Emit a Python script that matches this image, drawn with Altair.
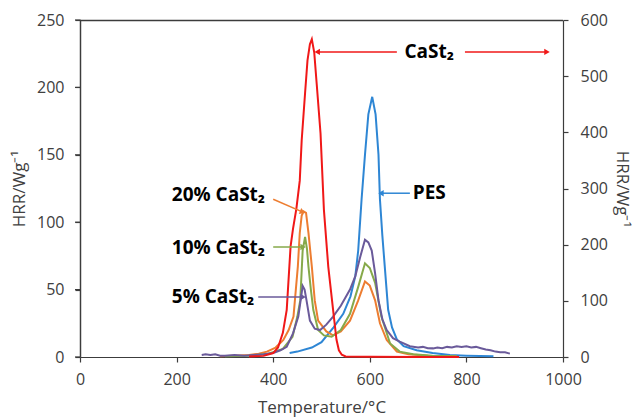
import altair as alt
import pandas as pd

# ---------------- data ----------------
# Temperature (°C) and HRR (W/g) – left axis series
pes_T = [434, 450, 480, 500, 525, 545, 560, 570, 576, 583, 590, 597, 605, 612, 618, 621, 626, 631, 638, 646, 656, 670, 697, 730, 766, 800, 856]
pes_v = [3, 4, 7, 11, 22, 32, 45, 60, 79, 117, 150, 180, 193, 180, 150, 117, 90, 67, 35, 22, 13, 8, 5, 3, 1.5, 1, 0.5]

p20_T = [290, 320, 350, 370, 387, 405, 421, 432, 442, 451, 455, 459, 463, 468, 473, 480, 486, 493, 510, 524, 540, 559, 576, 590, 600, 611, 621, 635, 656, 680, 720, 780]
p20_v = [0.5, 1, 1.5, 2.5, 4, 7, 12.6, 20, 30, 67, 92, 105, 108, 107, 92, 67, 42, 27, 19, 16, 19, 27, 42, 56, 53, 42, 25, 12.6, 4, 2, 1, 0.5]

p10_T = [300, 350, 390, 420, 440, 450, 456, 461, 466, 470, 473, 478, 483, 493, 505, 521, 540, 559, 576, 590, 600, 611, 624, 642, 662, 690, 730, 780]
p10_v = [0.5, 1, 2.5, 6, 15, 30, 42, 79, 89, 80, 67, 50, 35, 20, 16, 15, 20, 32, 52, 69.5, 66, 55, 30, 10, 4, 2, 1, 0.5]

p5_T = [252, 260, 270, 280, 290, 300, 320, 340, 360, 380, 400, 415, 428, 441, 452, 458, 461, 465, 469, 476, 486, 497, 510, 524, 540, 559, 570, 580, 590, 597, 604, 611, 618, 626, 635, 648, 662, 683, 700, 710, 720, 731, 740, 750, 760, 770, 780, 790, 800, 810, 820, 830, 840, 850, 860, 870, 880, 890]
p5_v = [1.5, 2, 1.5, 2, 1, 1, 1.5, 1, 1.5, 2, 3, 5, 7.6, 17.5, 30, 45, 52.7, 50, 42, 27, 21, 20, 24, 30, 38, 50, 60, 74, 87, 85, 79, 62, 42, 28, 20, 14, 11.4, 8, 7, 7.5, 6.5, 6.4, 7, 6.5, 7.5, 7, 8, 7.5, 8, 7, 7.5, 6.5, 5.5, 5, 4, 3.5, 3.5, 2.5]

# CaSt2 – right axis (W/g)
red_T = [350, 380, 400, 410, 420, 428, 436, 441, 448, 455, 459, 466, 471, 476, 480, 485, 490, 498, 505, 514, 524, 531, 536, 542, 550, 600, 700, 785]
red_v = [1, 2, 7, 17, 43, 84, 197, 228, 264, 314, 386, 470, 528, 557, 566, 542, 487, 398, 262, 161, 84, 31, 12, 4, 1, 0.5, 0, 0]

x_ticks = [0, 200, 400, 600, 800, 1000]
yl_ticks = [0, 50, 100, 150, 200, 250]
yr_ticks = [0, 100, 200, 300, 400, 500, 600]

labels = ["20% CaSt₂", "10% CaSt₂", "5% CaSt₂", "PES", "CaSt₂"]

# ---------------- style ----------------
FONT = "Open Sans"
AX = "#3c3c3c"
TXT = "#404040"
C_RED = "#F01818"
C_BLUE = "#2E86D4"
C_OR = "#ED7D31"
C_GR = "#86A94A"
C_PU = "#6A5A9A"
W, H = 483, 337


def xs():
    return alt.Scale(domain=[0, 1000], nice=False)


def yls():
    return alt.Scale(domain=[0, 250], nice=False)


def series(T, v):
    return pd.DataFrame({"T": T, "v": v})


def x_axis():
    return alt.Axis(values=x_ticks, title="Temperature/°C", grid=False, tickSize=5, format="d",
                    labelPadding=9, titlePadding=12, labelFlush=False, domain=True, ticks=True)


yl_axis = alt.Axis(values=yl_ticks, title="HRR/Wg⁻¹", grid=False, tickSize=5, domain=True, ticks=True,
                   labelPadding=11, titlePadding=8, orient="left", labelFlush=False)
yr_axis = alt.Axis(values=yr_ticks, title="HRR/Wg⁻¹", grid=False, tickSize=5, domain=True, ticks=True,
                   labelPadding=12, titlePadding=5, orient="right", titleAngle=90, labelFlush=False)


def line(T, v, color, yaxis=None):
    return alt.Chart(series(T, v)).mark_line(color=color, strokeWidth=2).encode(
        x=alt.X("T:Q", scale=xs(), axis=x_axis(), title="Temperature/°C"),
        y=alt.Y("v:Q", scale=yls(), axis=yaxis),
    )


# annotation table (positions in data units of the left axis)
ann = pd.DataFrame({
    "T": [400, 400, 369, 683, 656, 797],
    "y1": [117, 81.6, 44.5, 121.5, 226.3, 226.3],
    "x2": [459, 460, 460, 625, 493, 965],
    "y2": [107.8, 81.6, 44.5, 121.5, 226.3, 226.3],
    "ang": [113, 90, 90, 270, 270, 90],
    "col": [C_OR, C_GR, C_PU, C_BLUE, C_RED, C_RED],
})
ann_heads = pd.DataFrame({"T": ann["x2"], "y2": ann["y2"], "ang": ann["ang"], "col": ann["col"]})
txt = pd.DataFrame({
    "T": [190, 190, 190, 689, 723],
    "y": [120.5, 81, 44.5, 121.5, 226.3],
    "t": labels,
    "al": ["left", "left", "left", "left", "center"],
})

rules = alt.Chart(ann).mark_rule(strokeWidth=1.5).encode(
    x=alt.X("T:Q", scale=xs(), axis=x_axis(), title="Temperature/°C"), x2="x2:Q",
    y=alt.Y("y1:Q", scale=yls(), axis=None), y2="y2:Q",
    color=alt.Color("col:N", scale=None),
)
heads = alt.Chart(ann_heads).mark_point(shape="triangle", filled=True, size=40, opacity=1).encode(
    x=alt.X("T:Q", scale=xs(), axis=x_axis(), title="Temperature/°C"),
    y=alt.Y("y2:Q", scale=yls(), axis=None),
    angle=alt.Angle("ang:Q", scale=None),
    color=alt.Color("col:N", scale=None),
)


def text_layer(df, align):
    return alt.Chart(df).mark_text(
        font=FONT, fontWeight="bold", fontSize=19, align=align, baseline="middle", color="#000000"
    ).encode(
        x=alt.X("T:Q", scale=xs(), axis=x_axis(), title="Temperature/°C"),
        y=alt.Y("y:Q", scale=yls(), axis=None),
        text="t:N",
    )


txt_left = text_layer(txt[txt["al"] == "left"], "left")
txt_center = text_layer(txt[txt["al"] == "center"], "center")

red = alt.Chart(series(red_T, red_v)).mark_line(color=C_RED, strokeWidth=2).encode(
    x=alt.X("T:Q", scale=xs(), axis=x_axis(), title="Temperature/°C"),
    y=alt.Y("v:Q", scale=alt.Scale(domain=[0, 600], nice=False), axis=yr_axis),
)

# plot frame: left edge, top edge and outward left ticks (positioned by the left scale)
frame_left = alt.Chart(pd.DataFrame({"k": [0]})).mark_rule(color=AX, strokeWidth=1.3, clip=False).encode(
    x=alt.value(0.5), y=alt.value(0), y2=alt.value(H)
)
frame_top = alt.Chart(pd.DataFrame({"k": [0]})).mark_rule(color=AX, strokeWidth=1.3, clip=False).encode(
    x=alt.value(0), x2=alt.value(W), y=alt.value(0.5)
)
left_ticks = alt.Chart(pd.DataFrame({"v": yl_ticks})).mark_rule(color=AX, strokeWidth=1.2, clip=False).encode(
    y=alt.Y("v:Q", scale=yls(), axis=None), x=alt.value(-5), x2=alt.value(0.5)
)

chart = alt.layer(
    line(pes_T, pes_v, C_BLUE, yl_axis),
    line(p20_T, p20_v, C_OR),
    line(p10_T, p10_v, C_GR),
    line(p5_T, p5_v, C_PU),
    red,
    rules, heads, txt_left, txt_center,
    left_ticks, frame_left, frame_top,
).resolve_scale(y="independent").properties(
    width=W, height=H,
    autosize=alt.AutoSizeParams(type="none"),
    padding={"left": 80, "top": 20, "right": 73, "bottom": 61},
    background="white",
).configure_view(strokeOpacity=0).configure_axis(
    domainColor=AX, tickColor=AX, labelColor=TXT, titleColor=TXT,
    labelFont=FONT, titleFont=FONT, labelFontSize=16, titleFontSize=17,
    titleFontWeight="normal", domainWidth=1.2, tickWidth=1.2,
)

chart.save("out.html", embed_options={"renderer": "svg", "actions": False})
